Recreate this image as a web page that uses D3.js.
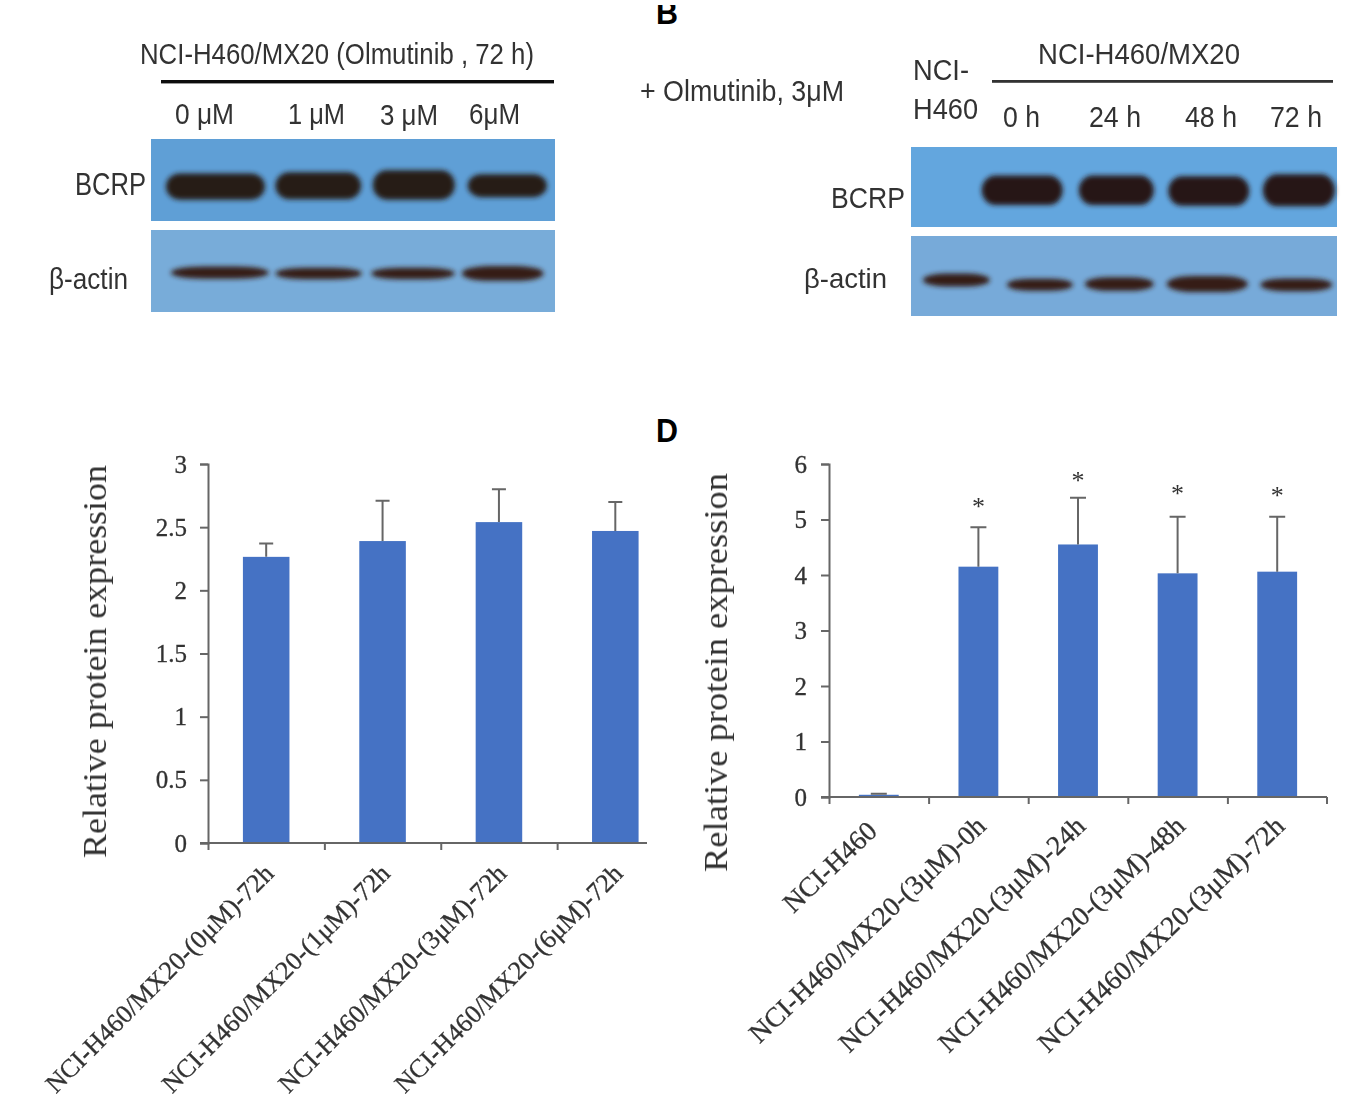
<!DOCTYPE html>
<html>
<head>
<meta charset="utf-8">
<script src="https://cdnjs.cloudflare.com/ajax/libs/d3/7.8.5/d3.min.js"></script>
<style>
html, body { margin: 0; padding: 0; background: #fff; }
svg { display: block; }
</style>
</head>
<body>
<script>
// bar chart values
var doseLabels = ["NCI-H460/MX20-(0μM)-72h", "NCI-H460/MX20-(1μM)-72h", "NCI-H460/MX20-(3μM)-72h", "NCI-H460/MX20-(6μM)-72h"];
var doseValues = [2.265, 2.39, 2.54, 2.47];
var doseErrorTops = [2.37, 2.71, 2.80, 2.70];
var doseTicks = [0, 0.5, 1, 1.5, 2, 2.5, 3];

var timeLabels = ["NCI-H460", "NCI-H460/MX20-(3μM)-0h", "NCI-H460/MX20-(3μM)-24h", "NCI-H460/MX20-(3μM)-48h", "NCI-H460/MX20-(3μM)-72h"];
var timeValues = [0.04, 4.15, 4.55, 4.03, 4.06];
var timeErrorTops = [0.06, 4.86, 5.39, 5.05, 5.05];
var timeStars = [null, 5.29, 5.77, 5.53, 5.50];
var timeTicks = [0, 1, 2, 3, 4, 5, 6];

// blot lanes, percent of the membrane: [from, to, middle, thickness]
var doseBcrpBands = [[3.7, 28.2, 58, 32], [30.8, 52, 57, 33], [54.9, 75.2, 56, 36], [78.4, 98, 57, 28]];
var doseActinBands = [[4.9, 29.2, 52, 15], [30.8, 52.2, 53, 14], [54.5, 75.2, 53, 14], [76.9, 97.2, 53, 18]];
var timeBcrpBands = [[16.6, 35.6, 54, 37], [39.4, 57, 54, 37], [60.4, 79.4, 55, 37], [82.6, 99.5, 54, 40]];
var timeActinBands = [[2.8, 18.5, 55, 16], [22.5, 38, 61, 15], [40.8, 57, 60, 17], [60, 79.1, 60, 20], [82, 98.9, 61, 16]];

var svg = d3.select("body").append("svg").attr("width", 1350).attr("height", 1102);

var defs = svg.append("defs");
defs.append("filter").attr("id", "soft").append("feGaussianBlur").attr("stdDeviation", 0.7);
defs.append("filter").attr("id", "soft2").attr("x", "-20%").attr("y", "-40%").attr("width", "140%").attr("height", "180%")
    .append("feGaussianBlur").attr("stdDeviation", 2.4);
defs.append("clipPath").attr("id", "topcut").append("rect").attr("x", 640).attr("y", 5).attr("width", 60).attr("height", 40);

var sans = "'Liberation Sans', Arial, sans-serif";
var serif = "'Liberation Serif', 'Times New Roman', serif";

function blot(x0, x1, y0, y1, fill, bands, bandFill, oval) {
    var x = d3.scaleLinear().domain([0, 100]).range([x0, x1]);
    var y = d3.scaleLinear().domain([0, 100]).range([y0, y1]);
    var g = svg.append("g");
    g.append("rect").attr("x", x0).attr("y", y0).attr("width", x1 - x0).attr("height", y1 - y0)
        .attr("fill", fill).attr("filter", "url(#soft)");
    g.append("g").attr("filter", "url(#soft2)").selectAll("rect").data(bands).enter().append("rect")
        .attr("x", function(d) { return x(d[0]); })
        .attr("width", function(d) { return x(d[1]) - x(d[0]); })
        .attr("y", function(d) { return y(d[2] - d[3] / 2); })
        .attr("height", function(d) { return y(d[3]) - y(0); })
        .attr("rx", function(d) { return oval ? (x(d[1]) - x(d[0])) / 3 : 14; })
        .attr("ry", function(d) { return (y(d[3]) - y(0)) / 2; })
        .attr("fill", bandFill);
}

blot(151, 555, 139, 221, "#5f9fd6", doseBcrpBands, "#281a15", false);
blot(151, 555, 230, 312, "#78acd9", doseActinBands, "#351d14", true);
blot(911, 1337, 147, 227, "#64a6de", timeBcrpBands, "#281814", false);
blot(911, 1337, 236, 316, "#77aad9", timeActinBands, "#351d14", true);

// narrow blot captions, squeezed to the width they have in the figure
var caps = svg.append("g").attr("filter", "url(#soft)").attr("font-family", sans).attr("fill", "#333");
function cap(text, x, y, w, size) {
    caps.append("text").attr("x", x).attr("y", y).attr("font-size", size)
        .attr("textLength", w).attr("lengthAdjust", "spacingAndGlyphs").text(text);
}
cap("NCI-H460/MX20 (Olmutinib , 72 h)", 140, 64, 394, 30);
cap("0 μM", 175, 124, 59, 30);
cap("1 μM", 288, 124, 57, 30);
cap("3 μM", 380, 125, 58, 30);
cap("6μM", 469, 124, 51, 30);
cap("BCRP", 75, 195, 71, 32);
cap("β-actin", 49, 289, 79, 29);
cap("+ Olmutinib, 3μM", 640, 101, 204, 30);
cap("NCI-", 913, 80, 56, 29);
cap("H460", 913, 119, 65, 29);
cap("NCI-H460/MX20", 1038, 64, 202, 29);
cap("0 h", 1003, 127, 37, 30);
cap("24 h", 1089, 127, 52, 30);
cap("48 h", 1185, 127, 52, 30);
cap("72 h", 1270, 127, 52, 30);
cap("BCRP", 831, 208, 74, 30);
cap("β-actin", 804, 288, 83, 28);

svg.append("rect").attr("x", 161).attr("y", 80).attr("width", 393).attr("height", 3.4).attr("fill", "#111").attr("filter", "url(#soft)");
svg.append("rect").attr("x", 992).attr("y", 80).attr("width", 341).attr("height", 2.8).attr("fill", "#333").attr("filter", "url(#soft)");

svg.append("g").attr("clip-path", "url(#topcut)").append("text").attr("x", 656).attr("y", 24)
    .attr("font-family", sans).attr("font-weight", "bold").attr("font-size", 33)
    .attr("textLength", 22).attr("lengthAdjust", "spacingAndGlyphs").attr("fill", "#000").text("B");
svg.append("text").attr("x", 656).attr("y", 442)
    .attr("font-family", sans).attr("font-weight", "bold").attr("font-size", 33)
    .attr("textLength", 22).attr("lengthAdjust", "spacingAndGlyphs").attr("fill", "#000").text("D");

function barChart(o) {
    var n = o.labels.length;
    var x = d3.scaleBand().domain(o.labels).range([o.left, o.right]).paddingInner(0.6).paddingOuter(0.3);
    var edge = d3.scaleLinear().domain([0, n]).range([o.left, o.right]);
    var y = d3.scaleLinear().domain([0, o.ticks[o.ticks.length - 1]]).range([o.bottom, o.top]);
    var rows = o.labels.map(function(l, i) {
        return {label: l, value: o.values[i], err: o.errors[i], star: o.stars ? o.stars[i] : null};
    });
    var g = svg.append("g").attr("filter", "url(#soft)");

    g.selectAll(".bar").data(rows).enter().append("rect").attr("class", "bar")
        .attr("x", function(d) { return x(d.label); })
        .attr("width", x.bandwidth())
        .attr("y", function(d) { return y(d.value); })
        .attr("height", function(d) { return y(0) - y(d.value); })
        .attr("fill", "#4472c4");

    g.selectAll(".err").data(rows).enter().append("path").attr("class", "err")
        .attr("fill", "none").attr("stroke", "#666").attr("stroke-width", 2)
        .attr("d", function(d) {
            var c = x(d.label) + x.bandwidth() / 2;
            return "M" + c + "," + y(d.value) + "V" + y(d.err) + "M" + (c - o.capHalf) + "," + y(d.err) + "H" + (c + o.capHalf);
        });

    var yAxis = d3.axisLeft(y).tickValues(o.ticks).tickSize(8).tickPadding(o.tickPad).tickFormat(d3.format("~g"));
    var ya = g.append("g").attr("transform", "translate(" + o.left + ",0)").call(yAxis);
    ya.selectAll("text").attr("font-family", serif).attr("font-size", o.tickSize).attr("fill", "#333")
        .attr("stroke", "#333").attr("stroke-width", 0.3);

    var xAxis = d3.axisBottom(edge).tickValues(d3.range(n)).tickSize(7).tickFormat("");
    var xa = g.append("g").attr("transform", "translate(0," + o.bottom + ")").call(xAxis);
    if (o.lastTick) xa.append("line").attr("x1", o.right).attr("x2", o.right).attr("y2", 7);
    xa.select(".domain").attr("d", "M" + (o.left - 8) + ",0H" + o.axisEnd);
    g.selectAll(".domain, .tick line").attr("stroke", "#666").attr("stroke-width", 2);
    xa.selectAll("line").attr("stroke", "#666").attr("stroke-width", 2);

    g.selectAll(".xlab").data(rows).enter().append("text").attr("class", "xlab")
        .attr("text-anchor", "end")
        .attr("font-family", serif).attr("font-size", o.labelSize).attr("fill", "#333")
        .attr("stroke", "#333").attr("stroke-width", 0.3)
        .attr("transform", function(d, i) {
            var nudge = (o.firstNudge && i === 0) ? o.firstNudge : [0, 0];
            return "translate(" + (x(d.label) + x.bandwidth() / 2 + o.labelDx + nudge[0]) + "," + (o.bottom + o.labelDy + nudge[1]) + ") rotate(" + o.labelAngle + ")";
        })
        .text(function(d) { return d.label; });

    g.selectAll(".star").data(rows.filter(function(d) { return d.star != null; })).enter().append("text").attr("class", "star")
        .attr("text-anchor", "middle").attr("font-family", serif).attr("font-size", 26).attr("fill", "#333")
        .attr("x", function(d) { return x(d.label) + x.bandwidth() / 2; })
        .attr("y", function(d) { return y(d.star) + 12; })
        .text("*");

    g.append("text").attr("text-anchor", "middle").attr("font-family", serif).attr("font-size", 33).attr("fill", "#333")
        .attr("textLength", o.titleLen).attr("lengthAdjust", "spacingAndGlyphs")
        .attr("transform", "translate(" + o.titleX + "," + o.titleY + ") rotate(-90)")
        .text("Relative protein expression");
}

barChart({
    labels: doseLabels, values: doseValues, errors: doseErrorTops, ticks: doseTicks,
    left: 208, right: 673.5, axisEnd: 647, top: 464, bottom: 843, capHalf: 7, tickPad: 13, tickSize: 25,
    labelSize: 26, labelDx: 9, labelDy: 32, labelAngle: -45, titleX: 106, titleY: 661.5, titleLen: 393
});

barChart({
    labels: timeLabels, values: timeValues, errors: timeErrorTops, ticks: timeTicks, stars: timeStars,
    left: 829, right: 1327, axisEnd: 1327, top: 464, bottom: 797, capHalf: 8, lastTick: true, tickPad: 14, tickSize: 25,
    labelSize: 27.5, labelDx: 9, labelDy: 31, labelAngle: -43.5, firstNudge: [-9, 5], titleX: 727, titleY: 672.5, titleLen: 399
});
</script>
</body>
</html>
